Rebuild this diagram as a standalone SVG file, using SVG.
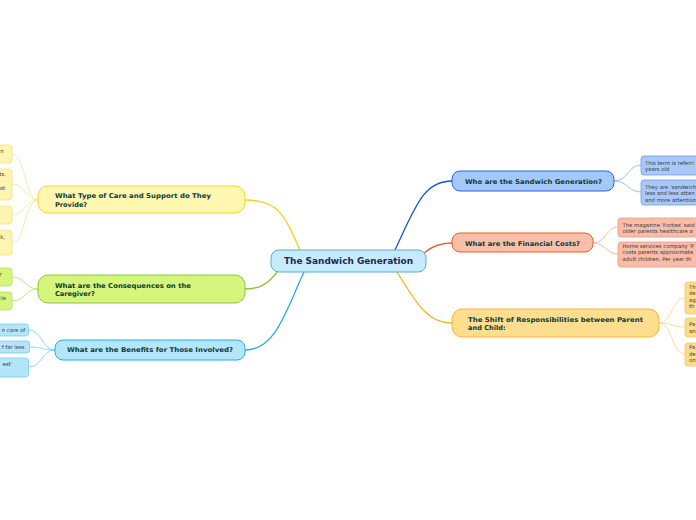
<svg xmlns="http://www.w3.org/2000/svg" width="696" height="520" viewBox="0 0 696 520">
<style>
.bt{font-family:"DejaVu Sans","Verdana",sans-serif;font-weight:bold;font-size:6.6px;fill:#0f3b36}
.ct{font-family:"DejaVu Sans","Verdana",sans-serif;font-weight:bold;font-size:8.6px;fill:#1b2a4e}
.lt{font-family:"DejaVu Sans","Verdana",sans-serif;font-size:5.3px;fill:#3a3a3a}
.c{fill:none;stroke-width:1.3}
.lc{fill:none;stroke-width:0.8}
</style>
<rect width="696" height="520" fill="#ffffff"/>
<g id="connectors">
<path class="c" stroke="#f0d31c" d="M300,250 C284,214 278,200 245,200"/>
<path class="c" stroke="#8dc63f" d="M278,271 C268,284 260,289 245,289"/>
<path class="c" stroke="#29abe2" d="M304,272 C286,310 276,350 245,350"/>
<path class="c" stroke="#1155cc" d="M395,250 C416,205 424,181 452,181"/>
<path class="c" stroke="#f05a28" d="M424,253 C432,246 440,243 452,243"/>
<path class="c" stroke="#fbb321" d="M397,272 C420,310 430,323 452,323"/>
<path class="lc" stroke="#8ab0f0" d="M614,181 C628,181 628,165 641,165 M614,181 C628,181 628,192 641,192"/>
<path class="lc" stroke="#f5a88c" d="M593,243 C606,243 606,227 618,227 M593,243 C606,243 606,254 618,254"/>
<path class="lc" stroke="#fcd37a" d="M659,323 C672,323 672,298 685,298 M659,323 C672,323 672,327 685,327 M659,323 C672,323 672,354 685,354"/>
<path class="lc" stroke="#f6e690" d="M38,200 C25,200 25,154 12,154 M38,200 C25,200 25,184 12,184 M38,200 C25,200 25,215 12,215 M38,200 C25,200 25,243 12,243"/>
<path class="lc" stroke="#b5e060" d="M38,289 C25,289 25,277 12,277 M38,289 C25,289 25,301 12,301"/>
<path class="lc" stroke="#78caf0" d="M55,350 C42,350 42,330 29,330 M55,350 C42,350 42,347 29,347 M55,350 C42,350 42,367 29,367"/>
</g>
<g id="center">
<rect x="271" y="250" width="155" height="22" rx="8" fill="#c6ebfb" stroke="#5aa8d8" stroke-width="1"/>
<text class="ct" x="284" y="264" textLength="129" lengthAdjust="spacingAndGlyphs">The Sandwich Generation</text>
</g>
<g id="who">
<rect x="452" y="171" width="162" height="20" rx="8" fill="#a4c8fa" stroke="#2266dd" stroke-width="1"/>
<text class="bt" x="465" y="183.5" textLength="137" lengthAdjust="spacingAndGlyphs">Who are the Sandwich Generation?</text>
</g>
<g id="who-leaf1">
<rect x="641" y="156" width="70" height="19" rx="3" fill="#a8c8f8" stroke="#6e9fe8" stroke-width="0.8"/>
<text class="lt" x="645" y="164.5">This term is referri</text>
<text class="lt" x="645" y="171">years old</text>
</g>
<g id="who-leaf2">
<rect x="641" y="180" width="70" height="25" rx="3" fill="#a8c8f8" stroke="#6e9fe8" stroke-width="0.8"/>
<text class="lt" x="645" y="188.5">They are 'sandwich</text>
<text class="lt" x="645" y="195">less and less atten</text>
<text class="lt" x="645" y="201.5">and more attention</text>
</g>
<g id="financial">
<rect x="452" y="233" width="141" height="19" rx="8" fill="#f9bfaa" stroke="#f05a28" stroke-width="1"/>
<text class="bt" x="465" y="245.5" textLength="115" lengthAdjust="spacingAndGlyphs">What are the Financial Costs?</text>
</g>
<g id="financial-leaf1">
<rect x="618" y="218" width="90" height="19" rx="3" fill="#f9bca8" stroke="#f39a7c" stroke-width="0.8"/>
<text class="lt" x="622.5" y="226.5">The magazine 'Forbes' said</text>
<text class="lt" x="622.5" y="233">older parents healthcare a</text>
</g>
<g id="financial-leaf2">
<rect x="618" y="242" width="90" height="25" rx="3" fill="#f9bca8" stroke="#f39a7c" stroke-width="0.8"/>
<text class="lt" x="622.5" y="247.5">Home services company 'P</text>
<text class="lt" x="622.5" y="254.3">costs parents approximate</text>
<text class="lt" x="622.5" y="261.1">adult children. Per year th</text>
</g>
<g id="shift">
<rect x="452" y="309" width="207" height="28" rx="10" fill="#fddd8e" stroke="#f8b830" stroke-width="1"/>
<text class="bt" x="468" y="321.5" textLength="175" lengthAdjust="spacingAndGlyphs">The Shift of Responsibilities between Parent</text>
<text class="bt" x="468" y="329.5">and Child:</text>
</g>
<g id="shift-leaf1">
<rect x="685" y="282" width="30" height="32" rx="3" fill="#fddb8c" stroke="#f9c85a" stroke-width="0.8"/>
<text class="lt" x="689" y="288.5">Th</text>
<text class="lt" x="689" y="295">de</text>
<text class="lt" x="689" y="301.5">ag</text>
<text class="lt" x="689" y="308">th</text>
</g>
<g id="shift-leaf2">
<rect x="685" y="318" width="30" height="19" rx="3" fill="#fddb8c" stroke="#f9c85a" stroke-width="0.8"/>
<text class="lt" x="689" y="326">Pa</text>
<text class="lt" x="689" y="332.5">an</text>
</g>
<g id="shift-leaf3">
<rect x="685" y="343" width="30" height="23" rx="3" fill="#fddb8c" stroke="#f9c85a" stroke-width="0.8"/>
<text class="lt" x="689" y="349">Pa</text>
<text class="lt" x="689" y="355.5">de</text>
<text class="lt" x="689" y="362">on</text>
</g>
<g id="care">
<rect x="38" y="186" width="207" height="27" rx="10" fill="#fff7b0" stroke="#f0d830" stroke-width="1"/>
<text class="bt" x="55" y="197.5" textLength="156" lengthAdjust="spacingAndGlyphs">What Type of Care and Support do They</text>
<text class="bt" x="55" y="206.5">Provide?</text>
</g>
<g id="care-leaf1">
<rect x="-20" y="145" width="32" height="18" rx="3" fill="#fff5b0" stroke="#f5e27a" stroke-width="0.8"/>
<text class="lt" x="3.5" y="153" text-anchor="end">n</text>
</g>
<g id="care-leaf2">
<rect x="-20" y="169" width="32" height="31" rx="3" fill="#fff5b0" stroke="#f5e27a" stroke-width="0.8"/>
<text class="lt" x="6" y="176" text-anchor="end">ts,</text>
<text class="lt" x="5" y="189.5" text-anchor="end">at</text>
</g>
<g id="care-leaf3">
<rect x="-20" y="206" width="32" height="18" rx="3" fill="#fff5b0" stroke="#f5e27a" stroke-width="0.8"/>
</g>
<g id="care-leaf4">
<rect x="-20" y="230" width="32" height="25" rx="3" fill="#fff5b0" stroke="#f5e27a" stroke-width="0.8"/>
<text class="lt" x="5" y="238.5" text-anchor="end">k,</text>
</g>
<g id="consequences">
<rect x="38" y="275" width="207" height="28" rx="10" fill="#d5f57c" stroke="#8dc63f" stroke-width="1"/>
<text class="bt" x="55" y="287.5" textLength="136" lengthAdjust="spacingAndGlyphs">What are the Consequences on the</text>
<text class="bt" x="55" y="295.5">Caregiver?</text>
</g>
<g id="consequences-leaf1">
<rect x="-20" y="268" width="32" height="18" rx="3" fill="#d5f57c" stroke="#b5e060" stroke-width="0.8"/>
<text class="lt" x="2" y="276" text-anchor="end">r</text>
</g>
<g id="consequences-leaf2">
<rect x="-20" y="292" width="32" height="18" rx="3" fill="#d5f57c" stroke="#b5e060" stroke-width="0.8"/>
<text class="lt" x="6" y="299.5" text-anchor="end">cle</text>
</g>
<g id="benefits">
<rect x="55" y="340" width="190" height="20" rx="8" fill="#b4e6fb" stroke="#29abe2" stroke-width="1"/>
<text class="bt" x="67" y="352.3" textLength="166" lengthAdjust="spacingAndGlyphs">What are the Benefits for Those Involved?</text>
</g>
<g id="benefits-leaf1">
<rect x="-20" y="324" width="48.5" height="12" rx="3" fill="#b4e6fb" stroke="#78caf0" stroke-width="0.8"/>
<text class="lt" x="25" y="332.3" text-anchor="end">n care of</text>
</g>
<g id="benefits-leaf2">
<rect x="-20" y="341" width="49.5" height="12" rx="3" fill="#b4e6fb" stroke="#78caf0" stroke-width="0.8"/>
<text class="lt" x="24.5" y="349" text-anchor="end">f far less</text>
</g>
<g id="benefits-leaf3">
<rect x="-20" y="358" width="48.5" height="19" rx="3" fill="#b4e6fb" stroke="#78caf0" stroke-width="0.8"/>
<text class="lt" x="12" y="366" text-anchor="end">est'</text>
</g>
</svg>
